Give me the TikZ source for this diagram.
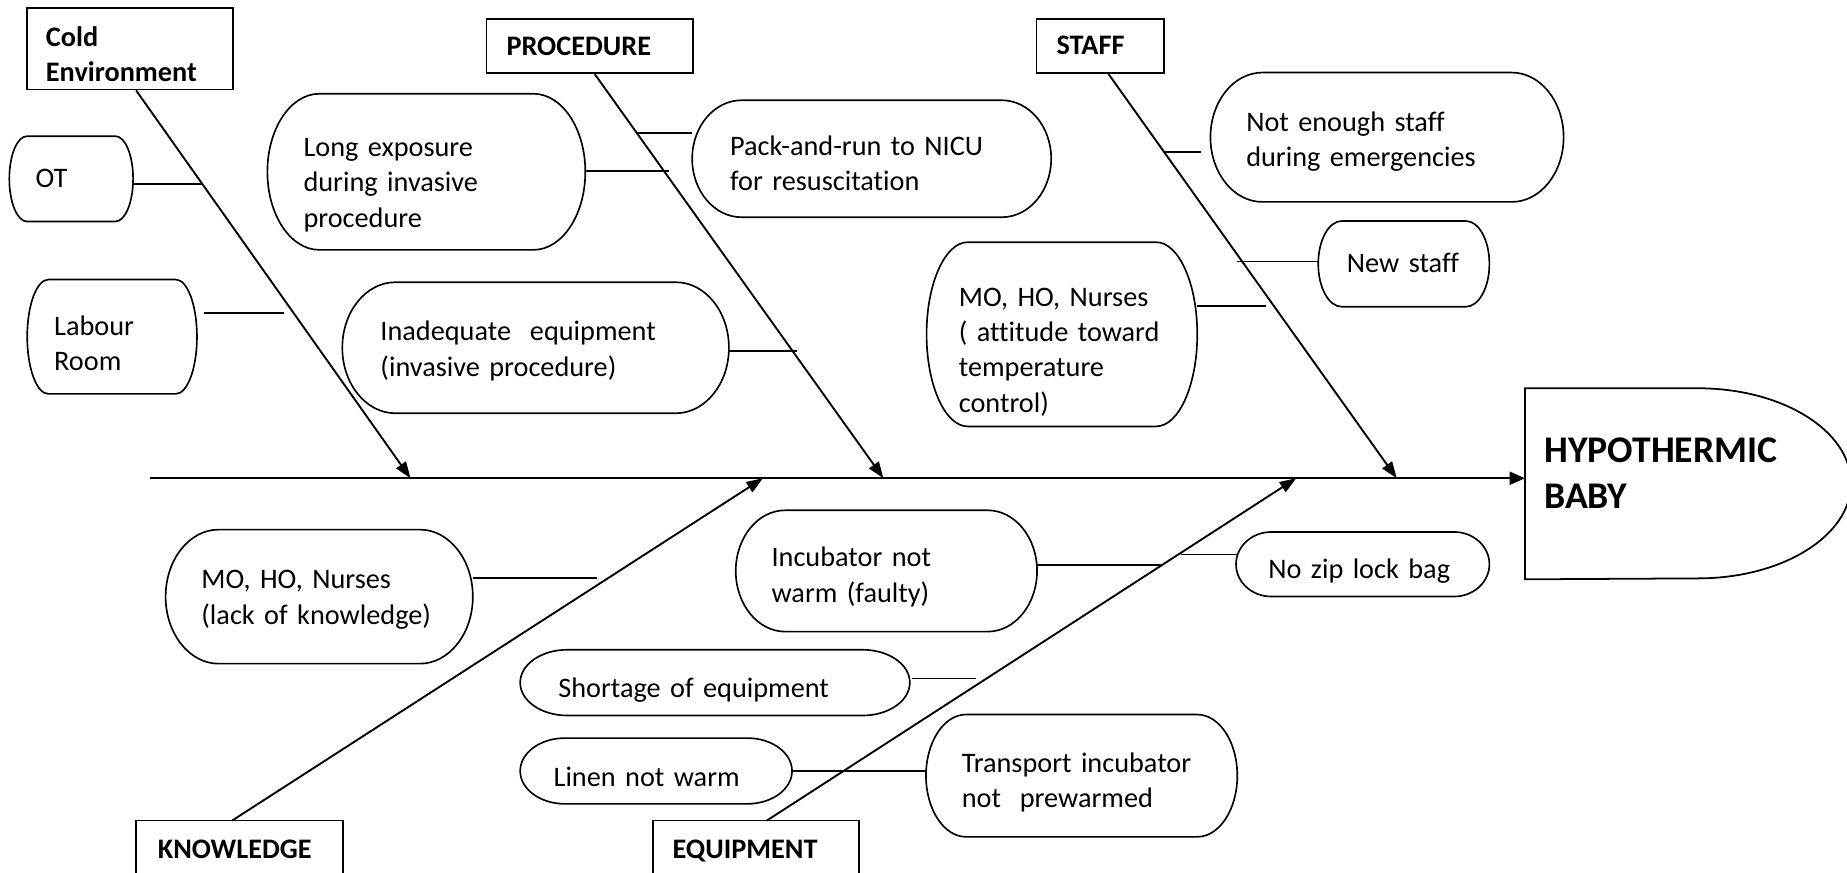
\documentclass[tikz,border=0pt]{standalone}
\usepackage{fontspec}
\setmainfont{Carlito}[Ligatures=NoCommon]
\usetikzlibrary{arrows.meta,calc}
% optional downward text shift (units), then style, name, x0, y0, x1, y1, left pad, text
\newcommand\fbnode[9][0]{%
  \pgfmathsetmacro\fbw{(#6-#4)*0.5}%
  \pgfmathsetmacro\fbh{(#7-#5)*0.5}%
  \pgfmathsetmacro\fbp{#8*0.5}%
  \pgfmathsetmacro\fbt{(#6-#4-2*#8)*0.5}%
  \pgfmathsetmacro\fbx{(#4+#6)/2}%
  \pgfmathsetmacro\fby{(#5+#7)/2}%
  \pgfmathsetmacro\fbs{#1*0.5}%
  \node[#2, minimum width=\fbw pt, minimum height=\fbh pt, inner xsep=\fbp pt, text width=\fbt pt] (#3) at (\fbx,\fby)
    {\raisebox{-\fbs pt}[\height][\depth]{\begin{tabular}{@{}l@{}}#9\end{tabular}}};}
% node name, horizontal radius of the rounded ends (units)
\newcommand\capsule[2]{%
  \pgfmathsetmacro\fbr{#2*0.5}%
  \draw[outline] let \p1=(#1.north west), \p2=(#1.south east) in
    (\x1+\fbr pt,\y1) -- (\x2-\fbr pt,\y1)
    arc[start angle=90,end angle=-90,x radius=\fbr pt,y radius={((\y1)-(\y2))/2}]
    -- (\x1+\fbr pt,\y2)
    arc[start angle=270,end angle=90,x radius=\fbr pt,y radius={((\y1)-(\y2))/2}] -- cycle;}
\tikzset{
  cause/.style={draw=none, align=left, inner ysep=0pt, font=\fontsize{12}{15}\selectfont},
  cat/.style={draw, line width=0.75pt, align=left, inner ysep=0pt, font=\fontsize{12}{15}\selectfont\bfseries},
  catopen/.style={draw=none, align=left, inner ysep=0pt, font=\fontsize{12}{15}\selectfont\bfseries},
  catline/.style={line width=0.75pt},
  hbstyle/.style={draw=none, align=left, inner ysep=0pt, font=\fontsize{16}{19.5}\selectfont\bfseries},
  outline/.style={line width=0.7pt},
  twig/.style={line width=0.8pt},
  bone/.style={line width=0.8pt, -{Triangle[length=7pt,width=5pt]}},
  spine/.style={line width=1pt, -{Triangle[length=6.5pt,width=5.5pt]}}
}
\begin{document}
\begin{tikzpicture}[x=0.5pt,y=-0.5pt]
\fill[white] (0,0) rectangle (1568,741);
\useasboundingbox (0,0) rectangle (1568,741);

% category boxes
\fbnode[7]{cat}{cold}{22.7}{7}{198}{76}{16.3}{Cold\\Environment}
\fbnode[2.5]{cat}{proc}{413}{16}{588.6}{62}{17}{PROCEDURE}
\fbnode[1]{cat}{staff}{880}{16}{988}{62}{17}{STAFF}
\fbnode[4]{catopen}{know}{116}{697}{291}{741}{18}{KNOWLEDGE}
\fbnode[4]{catopen}{equip}{555}{697}{729}{741}{16}{EQUIPMENT}
\draw[catline] (know.south west) -- (know.north west) -- (know.north east) -- (know.south east);
\draw[catline] (equip.south west) -- (equip.north west) -- (equip.north east) -- (equip.south east);

% effect
\fbnode{hbstyle}{hb}{1295}{330}{1571}{491.4}{16}{HYPOTHERMIC\\BABY\\[6pt]}
\draw[catline] (hb.south west) -- (hb.north west) -- ($(hb.north east)+(-130,0)$)
  arc[start angle=90,end angle=-90,x radius=65pt,y radius=40.35pt] -- cycle;

% causes
\fbnode[1]{cause}{ot}{8.3}{116}{112.6}{187.6}{22}{OT}
\fbnode[8]{cause}{lab}{23.5}{237.7}{166.8}{334}{22.5}{Labour\\Room}
\fbnode[11]{cause}{le}{227.4}{80}{496.5}{211.7}{30.3}{Long exposure\\during invasive\\procedure}
\fbnode[6]{cause}{pk}{588}{85.5}{892}{184}{31.8}{Pack-and-run to NICU\\for resuscitation}
\fbnode[3]{cause}{inad}{291}{240}{618.4}{350.4}{32}{Inadequate~ equipment\\(invasive procedure)}
\fbnode[4]{cause}{ne}{1028}{62}{1327}{171}{30}{Not enough staff\\during emergencies}
\fbnode[1]{cause}{ns}{1119.5}{188}{1264}{260}{24}{New staff}
\fbnode[15]{cause}{mo1}{787}{206}{1016}{361.6}{27}{MO, HO, Nurses\\( attitude toward\\temperature\\control)}
\fbnode[2.5]{cause}{mo2}{141}{450}{401}{563}{30}{MO, HO, Nurses\\(lack of knowledge)}
\fbnode[5.5]{cause}{inc}{625}{433.6}{880}{535.8}{30}{Incubator not\\warm (faulty)}
\fbnode[6]{cause}{zip}{1049.7}{452}{1264}{506}{27}{No zip lock bag}
\fbnode[7]{cause}{sh}{442}{552}{772}{607}{32}{Shortage of equipment}
\fbnode[7]{cause}{lin}{442}{627}{672}{682}{28}{Linen not warm}
\fbnode[6]{cause}{tr}{786.5}{607}{1050}{710}{30}{Transport incubator\\not~ prewarmed}

\capsule{ot}{15}
\capsule{lab}{18}
\capsule{le}{44}
\capsule{pk}{42}
\capsule{inad}{45}
\capsule{ne}{44}
\capsule{ns}{20}
\capsule{mo1}{35}
\capsule{mo2}{45}
\capsule{inc}{42}
\capsule{zip}{30}
\capsule{sh}{40}
\capsule{lin}{38}
\capsule{tr}{34}

% spine and bones
\coordinate (sp0) at (127,406);
\coordinate (tC) at (348.5,406);
\coordinate (tP) at (750,406);
\coordinate (tS) at (1185.7,406);
\coordinate (tK) at (647.7,406);
\coordinate (tE) at (1100.4,406);
\draw[spine] (sp0) -- (sp0 -| hb.west);
\draw[bone] ($(cold.south)+(5.2,0)$) -- (tC);
\draw[bone] ($(proc.south)+(4,0)$) -- (tP);
\draw[bone] ($(staff.south)+(7,0)$) -- (tS);
\draw[bone] ($(know.north)+(-6.4,0)$) -- (tK);
\draw[bone] ($(equip.north)+(9,0)$) -- (tE);

% twigs
\coordinate (wOT) at (172.4,156);
\coordinate (wLA) at (241.5,265.5);
\coordinate (wLE) at (567.7,145);
\coordinate (wPK) at (541,112.6);
\coordinate (wIN) at (676.3,297.7);
\coordinate (wNE) at (987,128.7);
\coordinate (wNS) at (1050,222);
\coordinate (wMO) at (1075,259.6);
\coordinate (wKN) at (507,491);
\coordinate (wIC) at (986,479.7);
\coordinate (wZP) at (1003,470.7);
\coordinate (wSH) at (828.6,576);
\draw[twig] (wOT -| ot.east) -- (wOT);
\draw[twig] ($(wLA -| lab.east)+(6,0)$) -- (wLA);
\draw[twig] (wLE -| le.east) -- (wLE);
\draw[twig] (wPK) -- (wPK -| pk.west);
\draw[twig] (wIN -| inad.east) -- (wIN);
\draw[twig] (wNE) -- ($(wNE -| ne.west)+(-8,0)$);
\draw[twig] (wNS) -- (wNS -| ns.west);
\draw[twig] (wMO -| mo1.east) -- (wMO);
\draw[twig] (wKN -| mo2.east) -- (wKN);
\draw[twig] (wIC -| inc.east) -- (wIC);
\draw[twig] (wZP) -- ($(wZP -| zip.west)+(2,0)$);
\draw[twig] ($(wSH -| sh.east)+(2,0)$) -- (wSH);
\draw[twig] (lin.east) -- (lin.east -| tr.west);
\end{tikzpicture}
\end{document}
